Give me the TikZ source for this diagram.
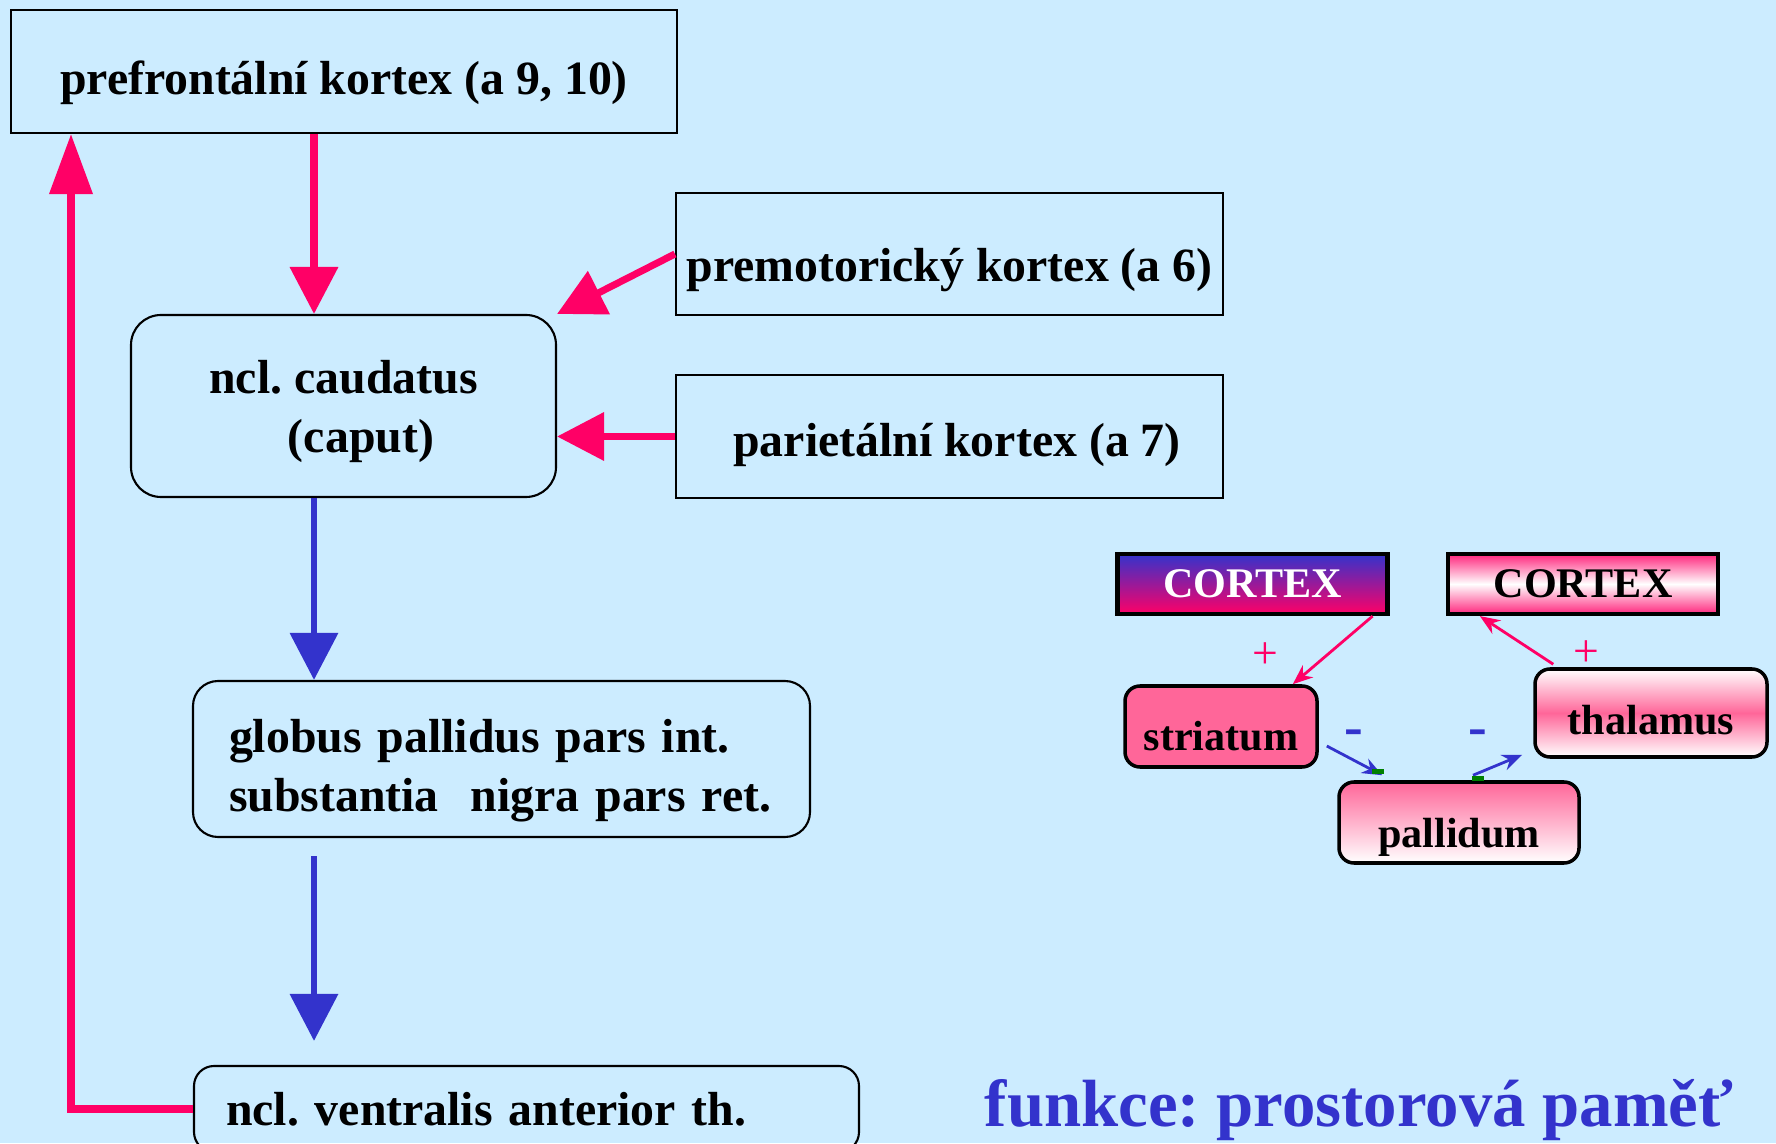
\documentclass[tikz,border=0pt]{standalone}
\usepackage{fontspec}
\setmainfont{Liberation Serif}
\usetikzlibrary{arrows.meta}

\definecolor{bgblue}{HTML}{CCECFF}
\definecolor{hotpink}{HTML}{FF0066}
\definecolor{lightpink}{HTML}{FF6699}
\definecolor{darkblue}{HTML}{3333CC}
\definecolor{darkgreen}{HTML}{008000}

% strut that pushes a label down inside its box
\newcommand{\txtstrut}[1]{\rule{0pt}{#1}}
\frenchspacing

\begin{document}
\begin{tikzpicture}[
    mainbox/.style={draw=black, line width=0.6pt, inner sep=0pt,
      font=\fontsize{13.6}{16.8}\selectfont\bfseries},
    areabox/.style={mainbox, minimum width=5.47cm, minimum height=1.22cm},
    nucleus/.style={mainbox, rounded corners=0.3cm},
    pinkarrow/.style={hotpink, line width=2pt, -{Triangle[length=0.47cm, width=0.47cm]}},
    bluearrow/.style={darkblue, line width=1.9pt, -{Triangle[length=0.47cm, width=0.47cm]}},
    cortexbox/.style={draw=black, line width=1.2pt, inner sep=0pt,
      minimum width=2.7cm, minimum height=0.6cm, font=\fontsize{12}{14}\selectfont\bfseries},
    smallbox/.style={draw=black, line width=1pt, rounded corners=0.15cm, inner sep=0pt,
      font=\fontsize{12}{14}\selectfont\bfseries},
    thinarrow/.style={line width=0.8pt, -{Stealth[length=0.2cm, width=0.16cm]}},
    sign/.style={inner sep=0pt},
  ]
  \fill[bgblue] (0,0) rectangle (17.76,11.43);
  \useasboundingbox (0,0) rectangle (17.76,11.43);

  % cortical areas
  \node[mainbox, minimum width=6.66cm, minimum height=1.23cm] (pf) at (3.44,10.715) {\txtstrut{0.56cm}prefrontální kortex (a 9, 10)};
  \node[areabox] (pm) at (9.495,8.89) {\txtstrut{0.65cm}premotorický kortex (a 6)};
  \node[areabox, minimum height=1.23cm] (par) at (9.495,7.065) {\txtstrut{0.5cm}\hspace{0.15cm}parietální kortex (a 7)};

  % loop nuclei
  \node[nucleus, minimum width=4.25cm, minimum height=1.82cm, align=center] (caud) at (3.435,7.37) {\txtstrut{0.44cm}ncl. caudatus\\\hspace{0.35cm}(caput)};
  \node[nucleus, rounded corners=0.25cm, minimum height=1.56cm, inner xsep=0.36cm,
    text width=5.45cm, align=left] (glob) at (5.015,3.84) {\txtstrut{0.57cm}globus pallidus pars int.\\substantia\ \ nigra pars ret.};
  \node[nucleus, rounded corners=0.2cm, minimum height=0.86cm, inner xsep=0.32cm,
    text width=6.01cm, align=left] (vent) at (5.265,0.34) {ncl. ventralis anterior th.};

  \node[text=darkblue, font=\fontsize{19}{22}\selectfont\bfseries] (fn) at (13.59,0.33) {funkce: prostorová paměť};

  \coordinate (axis) at (3.14,0);
  \coordinate (rail) at (0.71,0);
  \draw[pinkarrow] (pf.south -| axis) -- (caud.north -| axis);
  \draw[pinkarrow] (pm.west) -- (caud.north east);
  \draw[pinkarrow] (par.west) -- (par.west -| caud.east);
  \draw[bluearrow] (caud.south -| axis) -- (glob.north -| axis);
  \draw[bluearrow, shorten <=0.18cm, shorten >=0.24cm] (glob.south -| axis) -- (vent.north -| axis);
  \draw[pinkarrow, -{Triangle[length=0.6cm, width=0.42cm]}] (vent.west) -| (pf.south -| rail);

  % small scheme
  \node[cortexbox, top color=darkblue, bottom color=hotpink, text=white] (cxl) at (12.525,5.59) {CORTEX};
  \node[cortexbox, top color=hotpink!85, bottom color=hotpink!85, middle color=white] (cxr) at (15.83,5.59) {CORTEX};
  \node[smallbox, fill=lightpink, minimum width=1.92cm, minimum height=0.81cm] (str) at (12.21,4.165) {\txtstrut{0.49cm}striatum};
  \node[smallbox, top color=white, bottom color=white, middle color=lightpink,
    minimum width=2.32cm, minimum height=0.88cm] (thal) at (16.51,4.30) {\txtstrut{0.43cm}thalamus};
  \node[smallbox, top color=lightpink, bottom color=white, minimum width=2.40cm, minimum height=0.81cm] (pall) at (14.59,3.205) {\txtstrut{0.59cm}pallidum};

  \node[sign, text=hotpink, font=\fontsize{13}{14}\selectfont] (plusa) at (12.65,4.87) {+};
  \node[sign, text=hotpink, font=\fontsize{13}{14}\selectfont] (plusb) at (15.86,4.89) {+};
  \node[sign, text=darkblue, font=\fontsize{16}{16}\selectfont\bfseries] (minusa) at (13.54,4.05) {-};
  \node[sign, text=darkblue, font=\fontsize{16}{16}\selectfont\bfseries] (minusb) at (14.78,4.05) {-};

  \draw[thinarrow, hotpink] ([xshift=-0.17cm]cxl.south east) -- ([xshift=-0.26cm]str.north east);
  \draw[thinarrow, hotpink] ([xshift=0.20cm, yshift=0.03cm]thal.north west) -- ([xshift=0.34cm]cxr.south west);
  \draw[thinarrow, darkblue] ([xshift=0.08cm, yshift=-0.195cm]str.east) -- ([xshift=0.45cm, yshift=0.05cm]pall.north west);
  \draw[thinarrow, darkblue] ([xshift=0.14cm, yshift=0.05cm]pall.north) -- ([xshift=-0.11cm, yshift=0.04cm]thal.south west);
  \fill[darkgreen] (13.72,3.69) rectangle ++(0.12,0.05);
  \fill[darkgreen] (14.72,3.62) rectangle ++(0.12,0.05);
\end{tikzpicture}
\end{document}
